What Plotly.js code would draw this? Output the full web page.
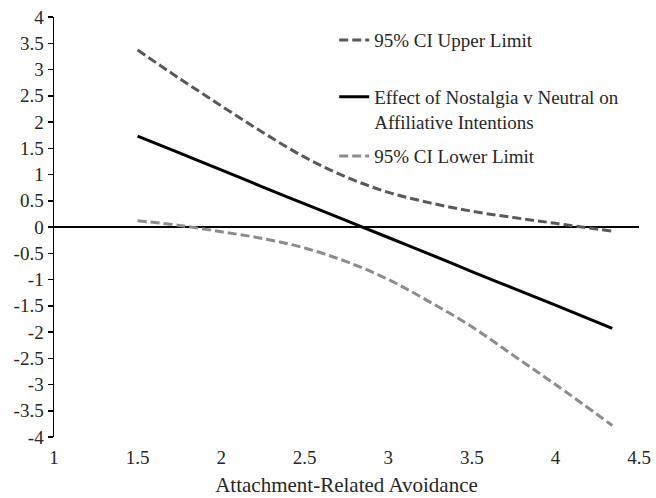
<!DOCTYPE html>
<html>
<head>
<meta charset="utf-8">
<script src="https://cdn.plot.ly/plotly-3.0.1.min.js"></script>
<style>html,body{margin:0;padding:0;background:#fff;}#chart{width:656px;height:498px;}</style>
</head>
<body>
<div id="chart"></div>
<script>
const xVals = [1.5, 1.75, 2.0, 2.25, 2.5, 2.75, 3.0, 3.25, 3.5, 3.75, 4.0, 4.34];
const upperCI = [3.37, 2.83, 2.31, 1.80, 1.33, 0.95, 0.66, 0.46, 0.30, 0.18, 0.07, -0.08];
const effect = [1.73, 1.41, 1.09, 0.76, 0.44, 0.12, -0.20, -0.52, -0.85, -1.17, -1.49, -1.93];
const lowerCI = [0.12, 0.03, -0.09, -0.22, -0.40, -0.66, -1.00, -1.43, -1.90, -2.45, -3.00, -3.78];
const seriesNames = ["95% CI Upper Limit", "Effect of Nostalgia v Neutral on<br>Affiliative Intentions", "95% CI Lower Limit"];
const yTickVals = [-4, -3.5, -3, -2.5, -2, -1.5, -1, -0.5, 0, 0.5, 1, 1.5, 2, 2.5, 3, 3.5, 4];
const yTickText = ["-4", "-3.5", "-3", "-2.5", "-2", "-1.5", "-1", "-0.5", "0", "0.5", "1", "1.5", "2", "2.5", "3", "3.5", "4"];
const xTickVals = [1, 1.5, 2, 2.5, 3, 3.5, 4, 4.5];
const xTickText = ["1", "1.5", "2", "2.5", "3", "3.5", "4", "4.5"];

const serif = "Liberation Serif";
const traces = [
  {x: xVals, y: upperCI, name: seriesNames[0], mode: "lines", line: {color: "#595959", width: 3, dash: "9px,4px", shape: "spline"}, legend: "legend"},
  {x: xVals, y: effect, name: seriesNames[1], mode: "lines", line: {color: "#000000", width: 3, shape: "spline"}, legend: "legend2"},
  {x: xVals, y: lowerCI, name: seriesNames[2], mode: "lines", line: {color: "#8c8c8c", width: 3, dash: "9px,4px", shape: "spline"}, legend: "legend3"}
];
const legFont = {family: serif, size: 19, color: "#262626"};
const legBase = {xanchor: "left", yanchor: "top", bgcolor: "rgba(0,0,0,0)", font: legFont, valign: "top"};
const layout = {
  width: 656, height: 498,
  margin: {l: 54, r: 17, t: 17, b: 61},
  paper_bgcolor: "#fff", plot_bgcolor: "#fff",
  font: {family: serif, color: "#262626"},
  showlegend: true,
  legend: Object.assign({}, legBase, {x: 0.479, y: 0.990}),
  legend2: Object.assign({}, legBase, {x: 0.479, y: 0.855}),
  legend3: Object.assign({}, legBase, {x: 0.479, y: 0.714}),
  xaxis: {
    range: [1, 4.5], tickvals: xTickVals, ticktext: xTickText,
    showline: false, showgrid: false, zeroline: false, ticks: "",
    ticklabelstandoff: 7,
    tickfont: {family: serif, size: 19, color: "#262626"},
    title: {text: "Attachment-Related Avoidance", font: {family: serif, size: 21, color: "#262626"}, standoff: 10}
  },
  yaxis: {
    range: [-4, 4], tickvals: yTickVals, ticktext: yTickText,
    showline: true, linecolor: "#000", linewidth: 1.5,
    ticks: "outside", ticklen: 5, tickcolor: "#000", tickwidth: 1.5,
    showgrid: false, zeroline: true, zerolinecolor: "#000", zerolinewidth: 1.5,
    tickfont: {family: serif, size: 19, color: "#262626"}
  }
};
Plotly.newPlot("chart", traces, layout, {displayModeBar: false, staticPlot: true});
</script>
</body>
</html>
